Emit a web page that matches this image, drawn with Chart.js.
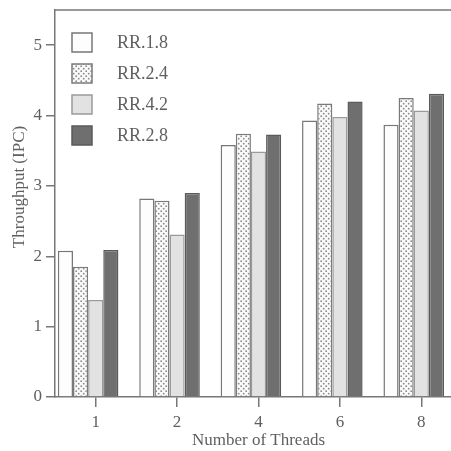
<!DOCTYPE html>
<html lang="en">
<head>
    <meta charset="UTF-8">
    <script src="https://cdn.jsdelivr.net/npm/chart.js"></script>
    <title>Throughput</title>
    <style>
        body { margin: 0; overflow: hidden; background: #fff; }
    </style>
</head>
<body>
    <div style="width: 462px; height: 451px;">
        <canvas id="myChart"></canvas>
    </div>
    <script>
        // data
        let threads = ['1', '2', '4', '6', '8'];
        let rr18 = [2.08, 2.82, 3.58, 3.93, 3.87];
        let rr24 = [1.85, 2.79, 3.74, 4.17, 4.25];
        let rr42 = [1.38, 2.31, 3.49, 3.98, 4.07];
        let rr28 = [2.09, 2.90, 3.73, 4.20, 4.31];
        let yTicks = [0, 1, 2, 3, 4, 5];

        // dotted fill
        let pc = document.createElement('canvas');
        pc.width = 5; pc.height = 5;
        let pctx = pc.getContext('2d');
        pctx.fillStyle = '#fafafa';
        pctx.fillRect(0, 0, 5, 5);
        pctx.fillStyle = '#8a8a8a';
        pctx.beginPath(); pctx.arc(1.2, 1.2, 0.9, 0, Math.PI * 2); pctx.fill();
        pctx.beginPath(); pctx.arc(3.7, 3.7, 0.9, 0, Math.PI * 2); pctx.fill();
        let ctx = document.getElementById('myChart');
        let dots = ctx.getContext('2d').createPattern(pc, 'repeat');

        let serif = "'Liberation Serif', 'DejaVu Serif', serif";
        let textGrey = '#5f5f5f';

        // legend inside the plot (top left), top frame line and y title
        let boxLegend = {
            id: 'boxLegend',
            afterDraw: function (chart) {
                let c = chart.ctx;
                let a = chart.chartArea;
                c.save();
                c.strokeStyle = '#777';
                c.lineWidth = 1.5;
                c.beginPath();
                c.moveTo(a.left, a.top);
                c.lineTo(a.right + 5, a.top);
                c.stroke();
                c.font = '18px ' + serif;
                c.textBaseline = 'middle';
                chart.data.datasets.forEach(function (ds, i) {
                    if (!ds.label) return;
                    let x = a.left + 17;
                    let y = a.top + 23 + i * 31;
                    c.fillStyle = ds.backgroundColor;
                    c.fillRect(x, y, 20, 19);
                    c.strokeStyle = ds.borderColor;
                    c.lineWidth = 1.5;
                    c.strokeRect(x, y, 20, 19);
                    c.fillStyle = textGrey;
                    c.fillText(ds.label, a.left + 62, y + 10);
                });
                // y axis title
                c.translate(20, 187);
                c.rotate(-Math.PI / 2);
                c.textAlign = 'center';
                c.font = '17px ' + serif;
                c.fillText('Throughput (IPC)', 0, 0);
                c.restore();
            }
        };

        let myChart = new Chart(ctx, {
            type: 'bar'
            , data: {
                labels: threads
                , datasets: [
                    { label: 'RR.1.8', data: rr18, backgroundColor: '#fdfdfd', borderColor: '#777' }
                    , { label: 'RR.2.4', data: rr24, backgroundColor: dots, borderColor: '#7a7a7a' }
                    , { label: 'RR.4.2', data: rr42, backgroundColor: '#e2e2e2', borderColor: '#9a9a9a' }
                    , { label: 'RR.2.8', data: rr28, backgroundColor: '#6f6f6f', borderColor: '#5a5a5a' }
                    // empty slot: the groups sit left of the tick marks
                    , { label: '', data: threads.map(function () { return null; }) }
                ]
            }
            , options: {
                responsive: true
                , maintainAspectRatio: false
                , animation: false
                , layout: { padding: { top: 10, right: 0, left: 0, bottom: 0 } }
                , datasets: { bar: { barPercentage: 1, categoryPercentage: 0.93, borderWidth: 1.5, borderSkipped: 'bottom' } }
                , plugins: {
                    legend: { display: false }
                    , tooltip: { enabled: false }
                }
                , scales: {
                    x: {
                        grid: { offset: false, drawOnChartArea: false, drawTicks: true, tickLength: 10, color: '#777', lineWidth: 1.5 }
                        , border: { color: '#777', width: 1.5 }
                        , ticks: { color: textGrey, font: { family: serif, size: 17 }, padding: 5 }
                        , title: { display: true, text: 'Number of Threads', color: textGrey, font: { family: serif, size: 17 }, padding: { top: -8, bottom: 0 } }
                        , afterFit: function (s) { s.height = 54; s.paddingLeft = 0; s.paddingRight = 0; }
                    }
                    , y: {
                        min: 0
                        , max: 5.5
                        , afterBuildTicks: function (s) { s.ticks = yTicks.map(function (v) { return { value: v }; }); }
                        , grid: { drawOnChartArea: false, drawTicks: true, tickLength: 9, color: '#777', lineWidth: 1.5 }
                        , border: { color: '#777', width: 1.5 }
                        , ticks: { color: textGrey, font: { family: serif, size: 17 }, padding: 4 }
                        , afterFit: function (s) { s.width = 55; s.paddingTop = 0; s.paddingBottom = 0; }
                    }
                }
            }
            , plugins: [boxLegend]
        });
    </script>
</body>
</html>
